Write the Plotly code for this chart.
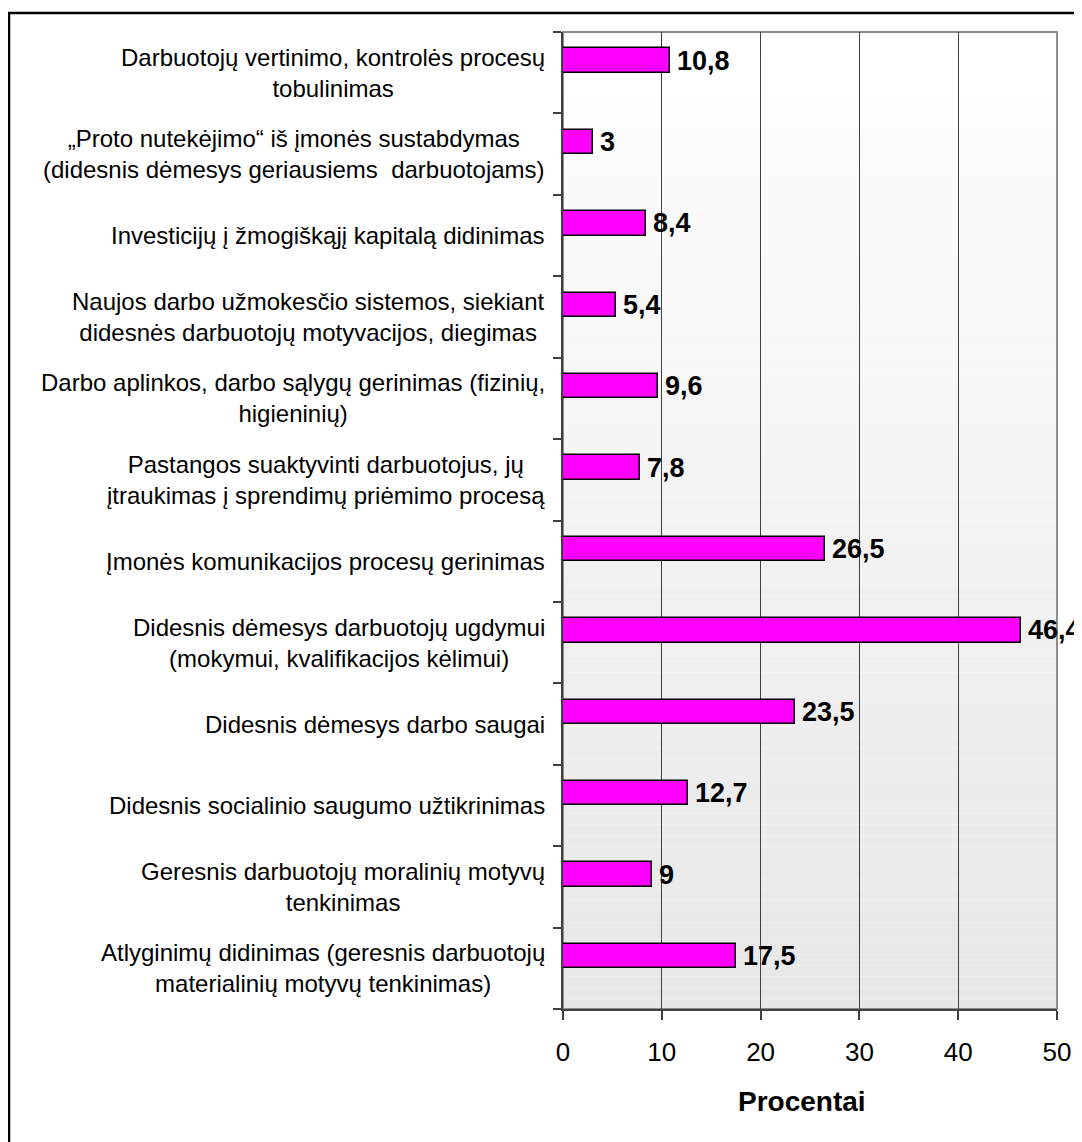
import plotly.graph_objects as go

# Categories listed bottom-to-top (Excel bar chart order)
categories = [
    "Atlyginimų didinimas (geresnis darbuotojų<br>materialinių motyvų tenkinimas)",
    "Geresnis darbuotojų moralinių motyvų<br>tenkinimas",
    "Didesnis socialinio saugumo užtikrinimas",
    "Didesnis dėmesys darbo saugai",
    "Didesnis dėmesys darbuotojų ugdymui<br>(mokymui, kvalifikacijos kėlimui)",
    "Įmonės komunikacijos procesų gerinimas",
    "Pastangos suaktyvinti darbuotojus, jų<br>įtraukimas į sprendimų priėmimo procesą",
    "Darbo aplinkos, darbo sąlygų gerinimas (fizinių,<br>higieninių)",
    "Naujos darbo užmokesčio sistemos, siekiant<br>didesnės darbuotojų motyvacijos, diegimas",
    "Investicijų į žmogiškąjį kapitalą didinimas",
    "„Proto nutekėjimo“ iš įmonės sustabdymas<br>(didesnis dėmesys geriausiems  darbuotojams)",
    "Darbuotojų vertinimo, kontrolės procesų<br>tobulinimas",
]
values = [17.5, 9, 12.7, 23.5, 46.4, 26.5, 7.8, 9.6, 5.4, 8.4, 3, 10.8]
x_ticks = [0, 10, 20, 30, 40, 50]
x_title = "Procentai"

FONT = "Liberation Sans, Arial, sans-serif"
BAR_W = 0.3

pos = list(range(len(categories)))
labels = [(f"{v:g}").replace(".", ",") for v in values]

fig = go.Figure()
fig.add_trace(go.Bar(
    x=values, y=pos, orientation="h",
    width=BAR_W, offset=0,
    marker=dict(color="#FF00FF", line=dict(color="black", width=1.5)),
    hoverinfo="skip",
))

annotations = []
# category labels
for p, c in zip(pos, categories):
    annotations.append(dict(
        xref="paper", x=0, yref="y", y=p, text=c, showarrow=False,
        xanchor="right", yanchor="middle", align="center", xshift=-16,
        font=dict(family=FONT, size=24, color="black"),
    ))
# value labels
for p, v, t in zip(pos, values, labels):
    annotations.append(dict(
        xref="x", x=v, yref="y", y=p + BAR_W / 2, text=f"<b>{t}</b>", showarrow=False,
        xanchor="left", yanchor="middle", xshift=5,
        font=dict(family=FONT, size=27, color="black"),
    ))
# axis title
annotations.append(dict(
    xref="paper", x=0.5, yref="paper", y=0, yshift=-92, xshift=-8,
    text=f"<b>{x_title}</b>", showarrow=False, xanchor="center", yanchor="middle",
    font=dict(family=FONT, size=28, color="black"),
))

# gradient background of plot area
shapes = []
N = 90
top, bottom = 255, 0xE7
for i in range(N):
    f = (i + 0.5) / N
    c = round(top + (bottom - top) * f)
    shapes.append(dict(
        type="rect", xref="paper", yref="paper", x0=0, x1=1,
        y0=1 - (i + 1) / N, y1=1 - i / N,
        fillcolor=f"rgb({c},{c},{c})", line=dict(width=0), layer="below",
    ))
# plot area frame (gray)
shapes.append(dict(type="rect", xref="paper", yref="paper", x0=0, x1=1, y0=0, y1=1,
                   line=dict(color="#8c8c8c", width=2), layer="below"))

# page body has an 8px margin, so the figure is laid out 8px smaller/shifted
OFF = 8
W, H = 1082 - OFF, 1142 - OFF
ML, MR, MT, MB = 563 - OFF, 1082 - 1057, 32 - OFF, 1142 - 1009
pw, ph = W - ML - MR, H - MT - MB
# outer chart border (black, cropped on right and bottom)
shapes.append(dict(type="rect", xref="paper", yref="paper",
                   x0=-(563 - 9) / pw, x1=1 + 60 / pw,
                   y0=-(1200 - 1009) / ph, y1=1 + (32 - 13) / ph,
                   line=dict(color="black", width=2.5), layer="above"))

fig.update_layout(
    width=W, height=H,
    margin=dict(l=ML, r=MR, t=MT, b=MB),
    paper_bgcolor="white", plot_bgcolor="rgba(0,0,0,0)",
    showlegend=False, bargap=0,
    font=dict(family=FONT, color="black"),
    annotations=annotations, shapes=shapes,
    xaxis=dict(
        range=[0, 50], tickvals=x_ticks, ticktext=[str(t) for t in x_ticks],
        showgrid=True, gridcolor="#404040", gridwidth=1,
        showline=True, linecolor="#404040", linewidth=2,
        ticks="outside", ticklen=9, tickcolor="#404040", tickwidth=1.5,
        tickfont=dict(family=FONT, size=26, color="black"),
        ticklabelstandoff=10, zeroline=False, fixedrange=True,
    ),
    yaxis=dict(
        range=[-0.5, len(categories) - 0.5],
        tickvals=[p - 0.5 for p in pos] + [len(categories) - 0.5],
        showticklabels=False, showgrid=False, zeroline=False,
        showline=True, linecolor="#404040", linewidth=2,
        ticks="outside", ticklen=8, tickcolor="#404040", tickwidth=1.5,
        fixedrange=True,
    ),
)

fig.write_html("out.html")
